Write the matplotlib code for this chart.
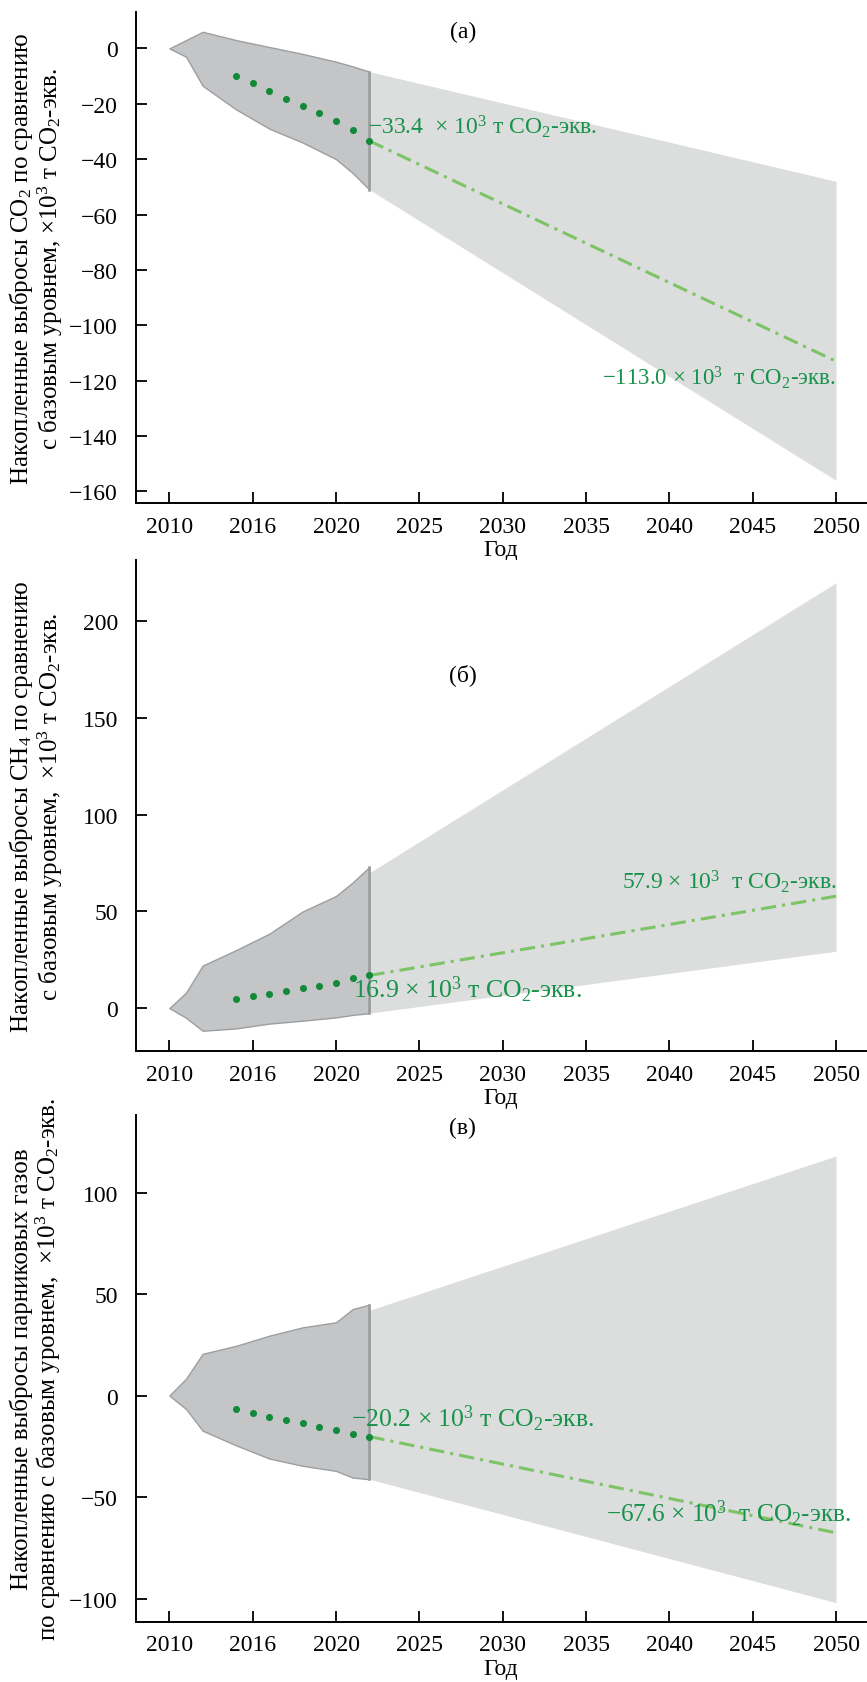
"""Cumulative emissions vs baseline: CO2, CH4, total GHG (three panels)."""

import numpy as np
import matplotlib
matplotlib.use("Agg")
import matplotlib.pyplot as plt

plt.rcParams["font.family"] = ["Liberation Serif", "DejaVu Serif"]
plt.rcParams["mathtext.fontset"] = "custom"
plt.rcParams["mathtext.rm"] = "Liberation Serif"
plt.rcParams["mathtext.it"] = "Liberation Serif:italic"
plt.rcParams["mathtext.bf"] = "Liberation Serif:bold"

# --- data ---
band_years = [2010, 2011, 2012, 2014, 2016, 2018, 2020, 2021, 2022]
dot_years = [2014, 2015, 2016, 2017, 2018, 2019, 2020, 2021, 2022]
proj_years = [2022, 2050]

co2_hi = [0, 3, 6, 3, 0.5, -2, -4.8, -6.5, -8.4]
co2_lo = [0, -3, -13.5, -22, -29, -34, -40, -45, -51]
co2_proj_hi = [-8.4, -48]
co2_proj_lo = [-51, -156]
co2_dots = [-9.9, -12.6, -15.3, -18.1, -20.7, -23.4, -26.2, -29.6, -33.4]
co2_line = [-33.4, -113.0]

ch4_hi = [0, 8, 22, 30, 38.5, 50, 58, 65, 73]
ch4_lo = [0, -5, -11.7, -10.5, -8, -6.5, -4.8, -3.5, -2.6]
ch4_proj_hi = [70, 220]
ch4_proj_lo = [-2.6, 29.4]
ch4_dots = [4.6, 6.2, 7.2, 8.6, 10.2, 11.5, 13.0, 15.4, 16.9]
ch4_line = [16.9, 57.9]

ghg_hi = [0, 8.3, 20.6, 24.5, 29.5, 33.6, 36.1, 42.6, 44.8]
ghg_lo = [0, -6.6, -17.3, -24.5, -31, -34.6, -37.1, -40.4, -41.2]
ghg_proj_hi = [42, 118]
ghg_proj_lo = [-41.2, -102]
ghg_dots = [-6.6, -8.6, -10.4, -12.0, -13.5, -15.3, -17.0, -18.8, -20.2]
ghg_line = [-20.2, -67.6]

xticks = [2010, 2015, 2020, 2025, 2030, 2035, 2040, 2045, 2050]
xtick_labels = ["2010", "2016", "2020", "2025", "2030", "2035", "2040", "2045", "2050"]

DARK = "#c4c5c7"
DARK_EDGE = "#9d9ea0"
LIGHT = "#dcdddd"
DOT = "#138a3a"
LINE = "#7cc465"
TXT = "#17924a"
FS = 17

fig = plt.figure(figsize=(8.67, 16.83), dpi=100)

# notes: (x, y, text, ha, fontsize)
panels = [
    dict(pos=[0.1569, 0.7005, 0.842, 0.2917], ylim=(-164.2, 13.1),
         yticks=np.arange(-160, 1, 20),
         hi=co2_hi, lo=co2_lo, phi=co2_proj_hi, plo=co2_proj_lo,
         dots=co2_dots, line=co2_line, tag="(а)", tag_y=6.2,
         ylabel="Накопленные выбросы CO$_2$ по сравнению\n"
                "с базовым уровнем, ×10$^3$ т CO$_2$-экв.",
         notes=[(2021.9, -28, "−33.4  × 10$^3$ т CO$_2$-экв.", "left", 17),
                (2050.0, -118.6, "−113.0 × 10$^3$  т CO$_2$-экв.", "right", 16.5)]),
    dict(pos=[0.1569, 0.3749, 0.842, 0.2919], ylim=(-22.2, 231.9),
         yticks=np.arange(0, 201, 50),
         hi=ch4_hi, lo=ch4_lo, phi=ch4_proj_hi, plo=ch4_proj_lo,
         dots=ch4_dots, line=ch4_line, tag="(б)", tag_y=172.8,
         ylabel="Накопленные выбросы CH$_4$ по сравнению\n"
                "с базовым уровнем,  ×10$^3$ т CO$_2$-экв.",
         notes=[(2021.0, 10, "16.9 × 10$^3$ т CO$_2$-экв.", "left", 18.5),
                (2050.0, 65.7, "57.9 × 10$^3$  т CO$_2$-экв.", "right", 17)]),
    dict(pos=[0.1569, 0.0357, 0.842, 0.3013], ylim=(-111.5, 138.3),
         yticks=np.arange(-100, 101, 50),
         hi=ghg_hi, lo=ghg_lo, phi=ghg_proj_hi, plo=ghg_proj_lo,
         dots=ghg_dots, line=ghg_line, tag="(в)", tag_y=132,
         ylabel="Накопленные выбросы парниковых газов\n"
                "по сравнению с базовым уровнем,  ×10$^3$ т CO$_2$-экв.",
         notes=[(2020.9, -11, "−20.2 × 10$^3$ т CO$_2$-экв.", "left", 18.5),
                (2050.9, -58, "−67.6 × 10$^3$  т CO$_2$-экв.", "right", 18.2)]),
]

for p in panels:
    ax = fig.add_axes(p["pos"])
    # projection band (light) then historical band (dark)
    ax.fill_between(proj_years, p["plo"], p["phi"], color=LIGHT, lw=0, zorder=1)
    ax.fill_between(band_years, p["lo"], p["hi"], facecolor=DARK,
                    edgecolor=DARK_EDGE, lw=1.0, zorder=2)
    ax.plot([band_years[-1], band_years[-1]], [p["lo"][-1], p["hi"][-1]],
            color="#9a9b9d", lw=1.8, zorder=3)
    ax.plot(proj_years, p["line"], color=LINE, lw=2.2,
            linestyle=(0, (5, 2, 1, 2)), zorder=4)
    ax.scatter(dot_years, p["dots"], s=26, color=DOT, zorder=5, lw=0)

    for x, y, s, ha, fs in p["notes"]:
        ax.text(x, y, s, color=TXT, fontsize=fs, ha=ha, va="center", zorder=6)
    ax.text(2027.6, p["tag_y"], p["tag"], fontsize=FS, ha="center", va="center")

    ax.set_xlim(2008, 2051.8)
    ax.set_ylim(*p["ylim"])
    ax.set_xticks(xticks)
    ax.set_xticklabels(xtick_labels)
    ax.set_yticks(p["yticks"])
    ax.tick_params(direction="in", length=8, width=1.3, labelsize=FS)
    ax.tick_params(axis="y", pad=13)
    ax.tick_params(axis="x", pad=9)
    for side in ("top", "right"):
        ax.spines[side].set_visible(False)
    for side in ("left", "bottom"):
        ax.spines[side].set_linewidth(1.4)
    ax.set_xlabel("Год", fontsize=FS, labelpad=2)
    ax.set_ylabel(p["ylabel"], fontsize=18, va="center", ha="center",
                  linespacing=1.05)
    ax.yaxis.set_label_coords(-0.137, 0.5)

fig.savefig("out.png", dpi=100)
